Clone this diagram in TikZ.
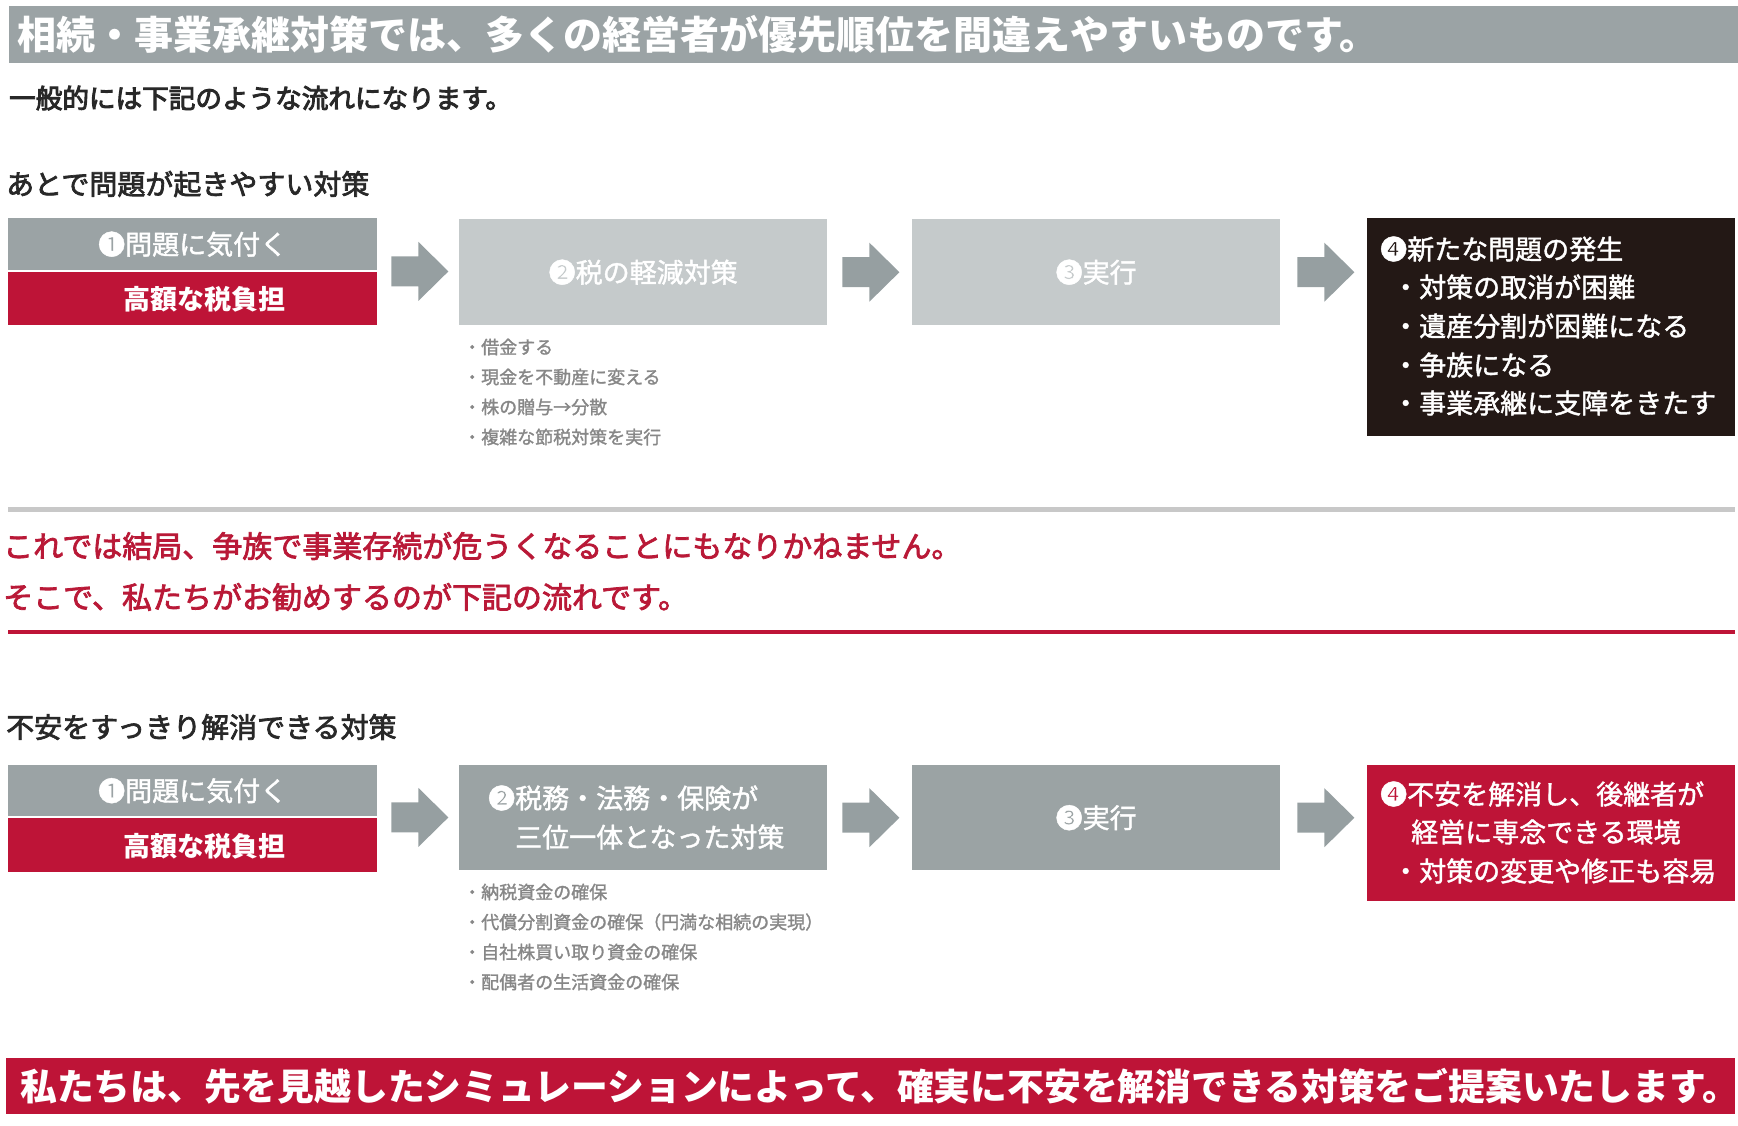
\documentclass[tikz,border=0pt]{standalone}
\usepackage{fontspec}
\setmainfont{Noto Sans CJK JP}
\newfontfamily\jpm[FakeBold=1.5]{Noto Sans CJK JP}
\newfontfamily\jpb[FakeBold=2.5]{Noto Sans CJK JP}
\newfontfamily\jpx[FakeBold=3.5]{Noto Sans CJK JP}
\usetikzlibrary{calc}
\definecolor{bannergray}{RGB}{155,163,165}
\definecolor{lightbox}{RGB}{197,202,203}
\definecolor{darkbox}{RGB}{155,163,164}
\definecolor{cred}{RGB}{190,20,55}
\definecolor{cblack}{RGB}{35,24,21}
\definecolor{arrowgray}{RGB}{150,159,161}
\definecolor{bullettxt}{RGB}{135,135,135}
\definecolor{headtxt}{RGB}{40,40,40}
\definecolor{redtxt}{RGB}{185,25,55}
\definecolor{linegray}{RGB}{200,200,200}
\newcommand{\fsz}[1]{\fontsize{#1}{#1}\selectfont}
\newcommand{\blockarrow}[1]{\fill[arrowgray] (#1) ++(0,-15) -- ++(27,0) -- ++(0,-14.5) -- ++(30,29.5) -- ++(-30,29.5) -- ++(0,-14.5) -- ++(-27,0) -- cycle;}
\tikzset{
  boxshape/.style={rectangle, inner sep=0pt, anchor=north west, draw=none},
  txt/.style={inner sep=0pt},
  wtxt/.style={inner sep=0pt, text=white, font=\jpm\fsz{27}},
  bullet/.style={inner sep=0pt, anchor=west, text=bullettxt, font=\jpm\fsz{18}},
  boxline/.style={inner sep=0pt, anchor=west, text=white, font=\jpm\fsz{27}},
  heading/.style={inner sep=0pt, anchor=west, text=headtxt, font=\jpb\fsz{28}},
  redline/.style={inner sep=0pt, anchor=west, text=redtxt, font=\jpb\fsz{30}},
}
\begin{document}
\begin{tikzpicture}[x=1pt,y=-1pt]
\useasboundingbox (0,0) rectangle (1738,1125);
% top banner
\node[boxshape, fill=bannergray, minimum width=1729pt, minimum height=57pt] (banner) at (9,6) {};
\node[txt, anchor=west, text=white, font=\fsz{39}\bfseries] (bannertxt) at (17,34) {相続・事業承継対策では、多くの経営者が優先順位を間違えやすいものです。};
\node[txt, anchor=west, text=headtxt, font=\jpx\fsz{26.6}] (sub) at (9,98) {一般的には下記のような流れになります。};
% section 1
\node[heading] (h1) at (6,184) {あとで問題が起きやすい対策};
\node[boxshape, fill=bannergray, minimum width=369pt, minimum height=52pt] (u1a) at (8,218) {};
\node[wtxt] (u1at) at (u1a.center) {❶問題に気付く};
\node[boxshape, fill=cred, minimum width=369pt, minimum height=53pt] (u1b) at (8,272) {};
\node[wtxt, font=\fsz{27}\bfseries] (u1bt) at (204,299) {高額な税負担};
\node[boxshape, fill=lightbox, minimum width=368pt, minimum height=106pt] (u2) at (459,219) {};
\node[wtxt] (u2t) at (u2.center) {❷税の軽減対策};
\node[boxshape, fill=lightbox, minimum width=368pt, minimum height=106pt] (u3) at (912,219) {};
\node[wtxt] (u3t) at (u3.center) {❸実行};
\node[boxshape, fill=cblack, minimum width=368pt, minimum height=218pt] (u4) at (1367,218) {};
\node[boxline] (u4l1) at (1380,249) {❹新たな問題の発生};
\node[boxline] (u4l2) at (1392,287) {・対策の取消が困難};
\node[boxline] (u4l3) at (1392,326) {・遺産分割が困難になる};
\node[boxline] (u4l4) at (1392,365) {・争族になる};
\node[boxline] (u4l5) at (1392,403) {・事業承継に支障をきたす};
\coordinate (ua1) at ($(u1a.south east)+(14,1)$);
\coordinate (ua2) at ($(u2.east)+(15,0)$);
\coordinate (ua3) at ($(u3.east)+(17,0)$);
\blockarrow{ua1}
\blockarrow{ua2}
\blockarrow{ua3}
\node[bullet] (ub1) at (463,347) {・借金する};
\node[bullet] (ub2) at (463,377) {・現金を不動産に変える};
\node[bullet] (ub3) at (463,407) {・株の贈与→分散};
\node[bullet] (ub4) at (463,437) {・複雑な節税対策を実行};
% separator
\coordinate (g1) at (8,509);
\coordinate (g2) at (1735,509);
\draw[linegray, line width=5pt] (g1) -- (g2);
\node[redline] (r1) at (3,546) {これでは結局、争族で事業存続が危うくなることにもなりかねません。};
\node[redline] (r2) at (3,597) {そこで、私たちがお勧めするのが下記の流れです。};
\coordinate (rl1) at (8,632);
\coordinate (rl2) at (1735,632);
\draw[cred, line width=4.5pt] (rl1) -- (rl2);
% section 2
\node[heading] (h2) at (6,727) {不安をすっきり解消できる対策};
\node[boxshape, fill=bannergray, minimum width=369pt, minimum height=51pt] (l1a) at (8,765) {};
\node[wtxt] (l1at) at (l1a.center) {❶問題に気付く};
\node[boxshape, fill=cred, minimum width=369pt, minimum height=54pt] (l1b) at (8,818) {};
\node[wtxt, font=\fsz{27}\bfseries] (l1bt) at (204,846) {高額な税負担};
\node[boxshape, fill=darkbox, minimum width=368pt, minimum height=105pt] (l2) at (459,765) {};
\node[boxline] (l2l1) at (488,798) {❷税務・法務・保険が};
\node[boxline] (l2l2) at (515,837) {三位一体となった対策};
\node[boxshape, fill=darkbox, minimum width=368pt, minimum height=105pt] (l3) at (912,765) {};
\node[wtxt] (l3t) at (l3.center) {❸実行};
\node[boxshape, fill=cred, minimum width=368pt, minimum height=136pt] (l4) at (1367,765) {};
\node[boxline] (l4l1) at (1380,794) {❹不安を解消し、後継者が};
\node[boxline] (l4l2) at (1411,832) {経営に専念できる環境};
\node[boxline] (l4l3) at (1392,871) {・対策の変更や修正も容易};
\coordinate (la1) at ($(l1a.south east)+(14,1)$);
\coordinate (la2) at ($(l2.east)+(15,0)$);
\coordinate (la3) at ($(l3.east)+(17,0)$);
\blockarrow{la1}
\blockarrow{la2}
\blockarrow{la3}
\node[bullet] (lb1) at (463,892) {・納税資金の確保};
\node[bullet] (lb2) at (463,922) {・代償分割資金の確保（円満な相続の実現）};
\node[bullet] (lb3) at (463,952) {・自社株買い取り資金の確保};
\node[bullet] (lb4) at (463,982) {・配偶者の生活資金の確保};
% bottom banner
\node[boxshape, fill=cred, minimum width=1729pt, minimum height=56pt] (bottom) at (6,1058) {};
\node[txt, anchor=west, text=white, font=\fsz{36.8}\bfseries] (bottomtxt) at (20,1086) {私たちは、先を見越したシミュレーションによって、確実に不安を解消できる対策をご提案いたします。};
\end{tikzpicture}
\end{document}
